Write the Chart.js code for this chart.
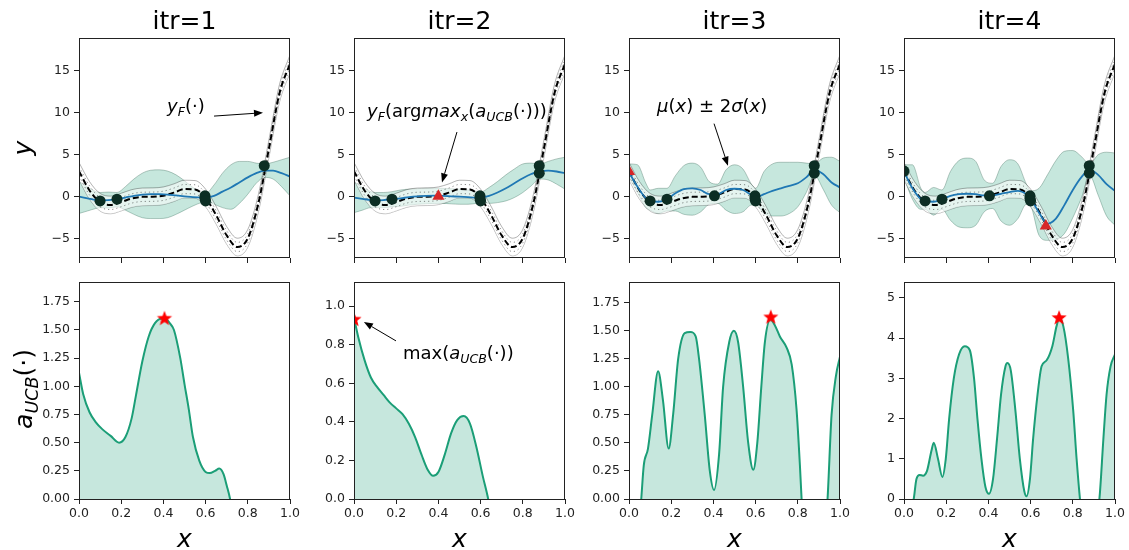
<!DOCTYPE html>
<html lang="en">
<head>
<meta charset="UTF-8">
<title>GP-UCB iterations</title>
<script src="https://cdn.jsdelivr.net/npm/chart.js"></script>
<style>
  body { margin: 0; background: #fff; overflow: hidden; }
  #wrap { position: relative; width: 1129px; height: 550px; overflow: hidden; background: #fff; }
  canvas { position: absolute; }
</style>
</head>
<body>
<div id="wrap"></div>
<script>
// ---------- values ----------
const titles = ['itr=1', 'itr=2', 'itr=3', 'itr=4'];

// true function y_F (same in all four top panels) and its grey band
const fx = [0, 0.05, 0.1, 0.15, 0.2, 0.25, 0.3, 0.35, 0.4, 0.45, 0.5, 0.55, 0.6, 0.65, 0.7, 0.75, 0.8, 0.85, 0.9, 0.95, 1];
const yF = [3.03, 0.74, -0.66, -0.98, -0.64, -0.21, -0.02, 0.00, 0.11, 0.48, 0.91, 0.87, -0.15, -2.21, -4.61, -5.99, -4.95, -0.80, 5.71, 12.30, 15.83];
const yFOuterHi = [4.08, 1.79, 0.39, 0.07, 0.41, 0.84, 1.03, 1.05, 1.16, 1.53, 1.96, 1.92, 0.90, -1.16, -3.56, -4.94, -3.90, 0.25, 6.76, 13.35, 16.88];
const yFOuterLo = [1.98, -0.31, -1.71, -2.03, -1.69, -1.26, -1.07, -1.05, -0.94, -0.57, -0.14, -0.18, -1.20, -3.26, -5.66, -7.04, -6.00, -1.85, 4.66, 11.25, 14.78];
const yFInnerHi = [3.58, 1.29, -0.11, -0.43, -0.09, 0.34, 0.53, 0.55, 0.66, 1.03, 1.46, 1.42, 0.40, -1.66, -4.06, -5.44, -4.40, -0.25, 6.26, 12.85, 16.38];
const yFInnerLo = [2.48, 0.19, -1.21, -1.53, -1.19, -0.76, -0.57, -0.55, -0.44, -0.07, 0.36, 0.32, -0.70, -2.76, -5.16, -6.54, -5.50, -1.35, 5.16, 11.75, 15.28];

// GP posterior: mean and mean +/- 2 sigma, per iteration
const gx = [0, 0.04, 0.08, 0.1, 0.14, 0.18, 0.22, 0.26, 0.3, 0.34, 0.38, 0.42, 0.46, 0.5, 0.54, 0.58, 0.6, 0.64, 0.68, 0.72, 0.76, 0.8, 0.84, 0.88, 0.92, 0.96, 1];
const mean1 = [0.0, -0.2, -0.4, -0.45, -0.4, -0.3, -0.1, 0.1, 0.25, 0.3, 0.3, 0.25, 0.15, 0.05, -0.05, -0.1, -0.1, 0.1, 0.6, 1.1, 1.7, 2.3, 2.8, 3.1, 3.1, 2.8, 2.4];
const upper1 = [1.8, 1.2, 0.6, 0.5, 0.55, 0.5, 1.2, 2.1, 2.8, 3.15, 3.2, 3.05, 2.6, 1.9, 1.1, 0.5, 0.4, 1.4, 2.8, 3.8, 4.2, 4.2, 4.0, 3.9, 4.1, 4.4, 4.7];
const lower1 = [-2.0, -1.7, -1.4, -1.3, -1.35, -1.2, -1.6, -2.1, -2.5, -2.6, -2.6, -2.5, -2.1, -1.6, -1.1, -0.7, -0.6, -0.9, -1.3, -1.5, -0.8, 0.3, 1.6, 2.3, 2.1, 1.2, 0.1];
const mean2 = [-0.1, -0.25, -0.4, -0.45, -0.4, -0.3, -0.2, -0.05, 0.05, 0.1, 0.12, 0.1, 0.05, 0.0, -0.05, -0.1, -0.1, 0.1, 0.5, 1.0, 1.6, 2.2, 2.7, 3.05, 3.1, 3.0, 2.8];
const upper2 = [1.8, 1.1, 0.6, 0.5, 0.5, 0.6, 0.8, 0.9, 0.95, 1.0, 1.0, 1.0, 0.95, 0.9, 0.8, 0.6, 0.55, 1.1, 1.8, 2.6, 3.3, 3.9, 4.0, 3.9, 4.2, 4.5, 4.7];
const lower2 = [-1.9, -1.6, -1.3, -1.3, -1.3, -1.2, -1.15, -1.0, -0.9, -0.85, -0.8, -0.8, -0.85, -0.9, -0.9, -0.8, -0.75, -0.8, -0.7, -0.5, -0.1, 0.5, 1.3, 2.1, 2.0, 1.5, 0.9];
const mean3 = [2.9, 1.2, -0.2, -0.5, -0.6, -0.3, 0.4, 0.9, 1.0, 0.8, 0.3, 0.3, 0.8, 0.95, 0.8, 0.2, -0.1, 0.3, 0.7, 1.0, 1.3, 1.6, 2.3, 3.2, 2.7, 1.7, 1.1];
const upper3 = [3.9, 3.8, 1.6, 0.8, 1.0, 1.0, 2.5, 3.7, 4.0, 3.5, 1.8, 1.5, 3.2, 3.8, 3.3, 1.5, 1.0, 3.0, 3.9, 4.1, 4.1, 4.1, 4.0, 3.9, 4.6, 4.7, 4.2];
const lower3 = [2.3, 0.5, -1.3, -1.6, -2.0, -1.7, -1.7, -2.1, -2.2, -1.8, -0.9, -0.8, -1.6, -2.0, -1.8, -1.0, -1.0, -2.0, -2.3, -2.3, -2.0, -1.2, 0.5, 2.5, 0.9, -1.0, -1.9];
const mean4 = [3.0, 1.0, -0.3, -0.5, -0.6, -0.3, 0.1, 0.3, 0.35, 0.3, 0.15, 0.15, 0.35, 0.55, 0.7, 0.3, -0.2, -1.9, -3.2, -2.6, -1.0, 0.8, 2.3, 3.2, 2.6, 1.5, 0.7];
const upper4 = [3.8, 3.8, 1.0, 0.5, 1.1, 0.8, 3.0, 4.3, 4.6, 4.2, 2.0, 1.6, 3.6, 4.4, 3.9, 1.5, 0.7, 1.0, 2.6, 4.3, 5.4, 5.5, 4.8, 3.9, 5.0, 5.3, 5.2];
const lower4 = [2.3, -0.3, -1.5, -1.5, -2.2, -1.5, -2.8, -3.6, -3.7, -3.4, -1.8, -1.4, -2.9, -3.4, -2.6, -0.9, -1.1, -4.6, -5.2, -5.1, -4.4, -2.5, -0.2, 2.5, 0.2, -2.3, -3.4];

// observations and the newly proposed point (red triangle)
const obsX1 = [0.1, 0.18, 0.597, 0.597, 0.6, 0.878];
const obsY1 = [-0.5, -0.3, 0.1, -0.2, -0.5, 3.7];
const obsX2 = [0.1, 0.18, 0.597, 0.597, 0.6, 0.878, 0.878];
const obsY2 = [-0.5, -0.3, 0.1, -0.2, -0.5, 3.7, 2.8];
const obsX3 = [0.1, 0.18, 0.405, 0.597, 0.597, 0.6, 0.878, 0.878];
const obsY3 = [-0.5, -0.3, 0.1, 0.1, -0.2, -0.5, 3.7, 2.8];
const obsX4 = [0, 0.1, 0.18, 0.405, 0.597, 0.597, 0.6, 0.878, 0.878];
const obsY4 = [3.05, -0.5, -0.3, 0.1, 0.1, -0.2, -0.5, 3.7, 2.8];
const nextX = [null, 0.4, 0, 0.672];
const nextY = [null, 0.05, 3.0, -3.5];

// UCB acquisition functions
const acqX1 = [0, 0.02, 0.05, 0.08, 0.11, 0.15, 0.19, 0.22, 0.25, 0.27, 0.3, 0.33, 0.36, 0.39, 0.41, 0.43, 0.45, 0.48, 0.5, 0.52, 0.54, 0.57, 0.6, 0.62, 0.645, 0.665, 0.685, 0.7, 0.716, 0.74];
const acqY1 = [1.12, 0.93, 0.77, 0.68, 0.62, 0.56, 0.50, 0.55, 0.72, 0.92, 1.22, 1.44, 1.56, 1.60, 1.60, 1.56, 1.50, 1.25, 1.02, 0.80, 0.55, 0.34, 0.24, 0.23, 0.25, 0.27, 0.22, 0.12, 0.0, -0.3];
const acqX2 = [0, 0.02, 0.05, 0.08, 0.11, 0.14, 0.17, 0.2, 0.23, 0.26, 0.29, 0.32, 0.35, 0.375, 0.4, 0.43, 0.46, 0.49, 0.52, 0.55, 0.58, 0.61, 0.636, 0.66];
const acqY2 = [0.94, 0.84, 0.72, 0.63, 0.58, 0.54, 0.50, 0.47, 0.44, 0.39, 0.32, 0.23, 0.15, 0.12, 0.14, 0.23, 0.34, 0.41, 0.43, 0.39, 0.27, 0.12, 0.0, -0.15];
const acqX3 = [0, 0.04, 0.058, 0.07, 0.09, 0.11, 0.138, 0.161, 0.188, 0.209, 0.233, 0.264, 0.29, 0.316, 0.332, 0.359, 0.383, 0.403, 0.427, 0.446, 0.475, 0.497, 0.517, 0.541, 0.565, 0.589, 0.608, 0.627, 0.644, 0.67, 0.691, 0.715, 0.747, 0.771, 0.794, 0.81, 0.818, 0.85, 0.9, 0.941, 0.96, 0.981, 1.0];
const acqY3 = [-1, -0.4, 0, 0.3, 0.45, 0.75, 1.14, 0.88, 0.45, 0.75, 1.25, 1.48, 1.49, 1.45, 1.25, 0.75, 0.25, 0.08, 0.4, 1.0, 1.4, 1.5, 1.4, 1.0, 0.5, 0.26, 0.5, 1.0, 1.4, 1.6, 1.55, 1.45, 1.35, 1.2, 0.8, 0.3, 0, -1, -1, 0, 0.75, 1.1, 1.27];
const acqX4 = [0, 0.046, 0.059, 0.074, 0.09, 0.109, 0.13, 0.141, 0.161, 0.182, 0.198, 0.214, 0.236, 0.261, 0.288, 0.312, 0.332, 0.348, 0.367, 0.386, 0.403, 0.422, 0.441, 0.46, 0.481, 0.49, 0.506, 0.528, 0.549, 0.57, 0.581, 0.597, 0.612, 0.633, 0.652, 0.676, 0.703, 0.723, 0.736, 0.755, 0.778, 0.802, 0.818, 0.834, 0.87, 0.926, 0.945, 0.96, 0.979, 1.0];
const acqY4 = [-1, 0, 0.5, 0.6, 0.58, 0.7, 1.2, 1.4, 1.0, 0.55, 1.0, 2.0, 3.0, 3.6, 3.8, 3.7, 3.0, 2.0, 1.0, 0.3, 0.13, 0.5, 1.5, 2.6, 3.3, 3.38, 3.2, 2.2, 1.0, 0.2, 0.07, 0.5, 1.5, 2.6, 3.3, 3.45, 3.8, 4.3, 4.5, 4.3, 3.5, 2.2, 1.0, 0, -1.5, 0, 1.5, 2.6, 3.3, 3.6];
const starX = [0.405, 0, 0.672, 0.735];
const starY = [1.6, 0.93, 1.62, 4.5];

// axes
const xTicks = [0, 0.2, 0.4, 0.6, 0.8, 1.0];
const xTickLabels = ['0.0', '0.2', '0.4', '0.6', '0.8', '1.0'];
const topYTicks = [-5, 0, 5, 10, 15];
const topYTickLabels = ['\u22125', '0', '5', '10', '15'];
const topYRange = [-7.3, 18.9];
const botYMax = [1.93, 1.128, 1.94, 5.41];
const botYTicks = [
  [0, 0.25, 0.5, 0.75, 1.0, 1.25, 1.5, 1.75],
  [0, 0.2, 0.4, 0.6, 0.8, 1.0],
  [0, 0.25, 0.5, 0.75, 1.0, 1.25, 1.5, 1.75],
  [0, 1, 2, 3, 4, 5]
];
const botYTickLabels = [
  ['0.00', '0.25', '0.50', '0.75', '1.00', '1.25', '1.50', '1.75'],
  ['0.0', '0.2', '0.4', '0.6', '0.8', '1.0'],
  ['0.00', '0.25', '0.50', '0.75', '1.00', '1.25', '1.50', '1.75'],
  ['0', '1', '2', '3', '4', '5']
];

const means = [mean1, mean2, mean3, mean4];
const uppers = [upper1, upper2, upper3, upper4];
const lowers = [lower1, lower2, lower3, lower4];
const obsXs = [obsX1, obsX2, obsX3, obsX4];
const obsYs = [obsY1, obsY2, obsY3, obsY4];
const acqXs = [acqX1, acqX2, acqX3, acqX4];
const acqYs = [acqY1, acqY2, acqY3, acqY4];

// ---------- drawing ----------
const FONT = '"DejaVu Sans", "Liberation Sans", sans-serif';
const GREEN = '#1b9e77';
const GREEN_FILL = 'rgba(27, 158, 119, 0.25)';
const lefts = [0, 275, 550, 825];
const CW = 310;

function pts(xs, ys) {
  return xs.map((x, i) => ({ x: x, y: ys[i] }));
}

// text with italic / subscript pieces, like mathtext
function rich(ctx, parts, x, y, size, align) {
  const fonts = {
    r: size + 'px ' + FONT,
    i: 'italic ' + size + 'px ' + FONT,
    s: 'italic ' + (size * 0.7).toFixed(1) + 'px ' + FONT
  };
  let w = 0;
  parts.forEach(p => { ctx.font = fonts[p[1]]; w += ctx.measureText(p[0]).width; });
  let cx = align === 'center' ? x - w / 2 : x;
  ctx.textAlign = 'left';
  ctx.textBaseline = 'alphabetic';
  parts.forEach(p => {
    ctx.font = fonts[p[1]];
    ctx.fillText(p[0], cx, p[1] === 's' ? y + size * 0.24 : y);
    cx += ctx.measureText(p[0]).width;
  });
}

function arrow(ctx, x0, y0, x1, y1) {
  const a = Math.atan2(y1 - y0, x1 - x0), L = 9, H = 3.5;
  const bx = x1 - L * Math.cos(a), by = y1 - L * Math.sin(a);
  ctx.beginPath();
  ctx.moveTo(x0, y0);
  ctx.lineTo(bx, by);
  ctx.stroke();
  ctx.beginPath();
  ctx.moveTo(x1, y1);
  ctx.lineTo(bx + H * Math.sin(a), by - H * Math.cos(a));
  ctx.lineTo(bx - H * Math.sin(a), by + H * Math.cos(a));
  ctx.closePath();
  ctx.fill();
}

const deco = {
  id: 'deco',
  afterDraw(chart, args, o) {
    const ctx = chart.ctx, a = chart.chartArea;
    const sx = chart.scales.x, sy = chart.scales.y;
    ctx.save();
    ctx.strokeStyle = '#222';
    ctx.lineWidth = 1;
    ctx.strokeRect(Math.round(a.left) + 0.5, Math.round(a.top) + 0.5, Math.round(a.width) - 1, Math.round(a.height) - 1);
    ctx.fillStyle = '#000';
    if (o.title) {
      rich(ctx, [[o.title, 'r']], (a.left + a.right) / 2, 29, 25, 'center');
    }
    if (o.xlabel) {
      rich(ctx, [[o.xlabel, 'i']], (a.left + a.right) / 2, 277, 25, 'center');
    }
    if (o.ylabel) {
      ctx.save();
      ctx.translate(o.ylabel.x, o.ylabel.y);
      ctx.rotate(-Math.PI / 2);
      rich(ctx, o.ylabel.parts, 0, 0, 25, 'center');
      ctx.restore();
    }
    (o.notes || []).forEach(n => {
      ctx.fillStyle = '#000';
      ctx.strokeStyle = '#000';
      ctx.lineWidth = 1;
      rich(ctx, n.parts, sx.getPixelForValue(n.tx), sy.getPixelForValue(n.ty), 18, 'left');
      arrow(ctx, sx.getPixelForValue(n.from[0]), sy.getPixelForValue(n.from[1]),
                 sx.getPixelForValue(n.to[0]), sy.getPixelForValue(n.to[1]));
    });
    ctx.restore();
  }
};
Chart.register(deco);

// red filled star used as point style
function starImage(r) {
  const c = document.createElement('canvas');
  c.width = c.height = 2 * r + 2;
  const g = c.getContext('2d');
  g.translate(r + 1, r + 1);
  g.beginPath();
  for (let k = 0; k < 10; k++) {
    const rad = k % 2 === 0 ? r : r * 0.42;
    const ang = -Math.PI / 2 + k * Math.PI / 5;
    g.lineTo(rad * Math.cos(ang), rad * Math.sin(ang));
  }
  g.closePath();
  g.fillStyle = '#ff0000';
  g.fill();
  return c;
}
const STAR = starImage(8);

function makeCanvas(left, top, w, h) {
  const c = document.createElement('canvas');
  c.width = w;
  c.height = h;
  c.style.left = left + 'px';
  c.style.top = top + 'px';
  c.style.width = w + 'px';
  c.style.height = h + 'px';
  document.getElementById('wrap').appendChild(c);
  return c;
}

function axes(yMin, yMax, yT, yL, showX, xH) {
  const tickFont = { family: FONT, size: 12.5 };
  const grid = { drawOnChartArea: false, drawTicks: true, tickLength: 5, tickColor: '#222', lineWidth: 1 };
  return {
    x: {
      type: 'linear', min: 0, max: 1,
      afterBuildTicks: s => { s.ticks = xTicks.map(v => ({ value: v })); },
      ticks: { display: showX, autoSkip: false, maxRotation: 0, padding: 2, color: '#222', font: tickFont,
               callback: (v, i) => xTickLabels[i] },
      grid: grid, border: { display: false },
      afterFit: s => { s.height = xH; }
    },
    y: {
      type: 'linear', min: yMin, max: yMax,
      afterBuildTicks: s => { s.ticks = yT.map(v => ({ value: v })); },
      ticks: { autoSkip: false, padding: 4, color: '#222', font: tickFont,
               callback: (v, i) => yL[i] },
      grid: grid, border: { display: false },
      afterFit: s => { s.width = 79; }
    }
  };
}

const topNotes = [
  [{ parts: [['y', 'i'], ['F', 's'], ['(\u00b7)', 'r']], tx: 0.417, ty: 10.1, from: [0.64, 9.6], to: [0.872, 10.0] }],
  [{ parts: [['y', 'i'], ['F', 's'], ['(arg', 'r'], ['max', 'i'], ['x', 's'], ['(', 'r'], ['a', 'i'], ['UCB', 's'], ['(\u00b7)))', 'r']],
     tx: 0.062, ty: 9.5, from: [0.488, 7.7], to: [0.417, 1.7] }],
  [{ parts: [['\u03bc', 'i'], ['(', 'r'], ['x', 'i'], [') \u00b1 2', 'r'], ['\u03c3', 'i'], ['(', 'r'], ['x', 'i'], [')', 'r']],
     tx: 0.133, ty: 10.1, from: [0.403, 8.7], to: [0.469, 3.7] }],
  []
];

for (let i = 0; i < 4; i++) {
  // ----- top row: GP fit -----
  const ds = [
    { data: pts(gx, lowers[i]), borderColor: 'rgba(80, 120, 105, 0.4)', borderWidth: 1, fill: false, order: 9 },
    { data: pts(gx, uppers[i]), borderColor: 'rgba(80, 120, 105, 0.4)', borderWidth: 1, fill: 0, backgroundColor: GREEN_FILL, order: 8 },
    { data: pts(fx, yFOuterLo), borderColor: 'rgba(0, 0, 0, 0.3)', borderWidth: 1, fill: false, order: 7 },
    { data: pts(fx, yFOuterHi), borderColor: 'rgba(0, 0, 0, 0.3)', borderWidth: 1, fill: 2, backgroundColor: 'rgba(255, 255, 255, 0.55)', order: 6 },
    { data: pts(fx, yFInnerLo), borderColor: 'rgba(0, 0, 0, 0.45)', borderWidth: 1, borderDash: [1.2, 3], fill: false, order: 5 },
    { data: pts(fx, yFInnerHi), borderColor: 'rgba(0, 0, 0, 0.45)', borderWidth: 1, borderDash: [1.2, 3], fill: false, order: 4 },
    { data: pts(fx, yF), borderColor: '#000', borderWidth: 2, borderDash: [6, 3], fill: false, order: 3 },
    { data: pts(gx, means[i]), borderColor: '#1f78b4', borderWidth: 1.8, fill: false, order: 2 },
    { data: pts(obsXs[i], obsYs[i]), showLine: false, pointRadius: 5.5, pointBackgroundColor: '#0c2e24', pointBorderWidth: 0, order: 1 }
  ];
  if (nextX[i] !== null) {
    ds.push({ data: [{ x: nextX[i], y: nextY[i] }], showLine: false, pointStyle: 'triangle', pointRadius: 7,
              pointBackgroundColor: '#d62728', pointBorderWidth: 0, order: 0 });
  }
  ds.forEach(d => { d.clip = 0; if (d.pointRadius === undefined) d.pointRadius = 0; });

  new Chart(makeCanvas(lefts[i], 0, CW, 275), {
    type: 'line',
    data: { datasets: ds },
    options: {
      responsive: false, animation: false, devicePixelRatio: 1, events: [],
      layout: { padding: { left: 0, right: 20, top: 38, bottom: 5 } },
      elements: { line: { cubicInterpolationMode: 'monotone' } },
      plugins: {
        legend: { display: false }, tooltip: { enabled: false },
        deco: {
          title: titles[i],
          ylabel: i === 0 ? { x: 31, y: 148, parts: [['y', 'i']] } : null,
          notes: topNotes[i]
        }
      },
      scales: axes(topYRange[0], topYRange[1], topYTicks, topYTickLabels, false, 12)
    }
  });

  // ----- bottom row: acquisition -----
  const bds = [
    { data: pts(acqXs[i], acqYs[i]), borderColor: GREEN, borderWidth: 2, fill: 'origin', backgroundColor: GREEN_FILL,
      pointRadius: 0, clip: 0, order: 1 },
    { data: [{ x: starX[i], y: starY[i] }], showLine: false, pointStyle: STAR, pointRadius: 8, clip: 0, order: 0 }
  ];
  const botNotes = i === 1 ? [{ parts: [['max(', 'r'], ['a', 'i'], ['UCB', 's'], ['(\u00b7))', 'r']],
                                tx: 0.232, ty: 0.728, from: [0.199, 0.82], to: [0.047, 0.918] }] : [];
  new Chart(makeCanvas(lefts[i], 270, CW, 280), {
    type: 'line',
    data: { datasets: bds },
    options: {
      responsive: false, animation: false, devicePixelRatio: 1, events: [],
      layout: { padding: { left: 0, right: 20, top: 9, bottom: 26 } },
      elements: { line: { cubicInterpolationMode: 'monotone' } },
      plugins: {
        legend: { display: false }, tooltip: { enabled: false },
        deco: {
          xlabel: 'x',
          ylabel: i === 0 ? { x: 32, y: 119, parts: [['a', 'i'], ['UCB', 's'], ['(\u00b7)', 'r']] } : null,
          notes: botNotes
        }
      },
      scales: axes(0, botYMax[i], botYTicks[i], botYTickLabels[i], true, 25)
    }
  });
}
</script>
</body>
</html>
